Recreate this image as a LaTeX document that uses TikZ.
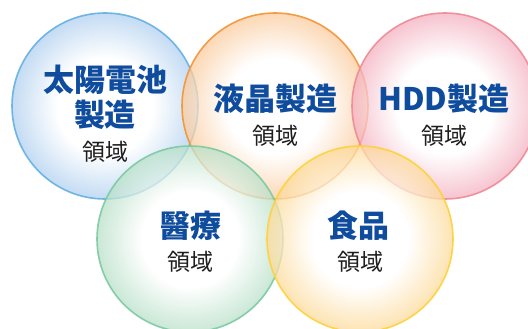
\documentclass[tikz,border=0pt]{standalone}
\usepackage{fontspec}
\newfontfamily\cjk{Noto Sans CJK JP}
\definecolor{titleblue}{HTML}{0F4C9E}
\definecolor{subgray}{HTML}{1E1E1E}
\definecolor{blueL}{HTML}{62B0E2}\definecolor{blueT}{HTML}{B0D0F0}
\definecolor{orangeL}{HTML}{F39436}\definecolor{orangeT}{HTML}{FBCB9C}
\definecolor{pinkL}{HTML}{EE8A96}\definecolor{pinkT}{HTML}{F4B0C0}
\definecolor{greenL}{HTML}{7CC9A3}\definecolor{greenT}{HTML}{B8E0C8}
\definecolor{yellowL}{HTML}{FDD23A}\definecolor{yellowT}{HTML}{FDDA98}
\pgfdeclareradialshading{blueS}{\pgfpoint{0bp}{0bp}}{color(0bp)=(white); color(13bp)=(white); color(25bp)=(blueT); color(50bp)=(blueT)}
\pgfdeclareradialshading{orangeS}{\pgfpoint{0bp}{0bp}}{color(0bp)=(white); color(13bp)=(white); color(25bp)=(orangeT); color(50bp)=(orangeT)}
\pgfdeclareradialshading{pinkS}{\pgfpoint{0bp}{0bp}}{color(0bp)=(white); color(13bp)=(white); color(25bp)=(pinkT); color(50bp)=(pinkT)}
\pgfdeclareradialshading{greenS}{\pgfpoint{0bp}{0bp}}{color(0bp)=(white); color(13bp)=(white); color(25bp)=(greenT); color(50bp)=(greenT)}
\pgfdeclareradialshading{yellowS}{\pgfpoint{0bp}{0bp}}{color(0bp)=(white); color(13bp)=(white); color(25bp)=(yellowT); color(50bp)=(yellowT)}
\tikzset{
  bubble/.style={fill opacity=0.75},
  rim/.style={line width=1.6pt, draw opacity=0.9},
  title/.style={inner sep=0pt, text=titleblue, font=\cjk\bfseries\fontsize{31}{37}\selectfont},
  sub/.style={inner sep=0pt, text=subgray, font=\cjk\fontsize{23}{27}\selectfont}
}
\begin{document}
\begin{tikzpicture}[x=1pt,y=-1pt]
\useasboundingbox (0,0) rectangle (528,329);
\fill[white] (0,0) rectangle (528,329);
\coordinate (cB) at (105,106);
\coordinate (cO) at (275,106);
\coordinate (cP) at (445,106);
\coordinate (cG) at (190,239);
\coordinate (cY) at (360,239);
\begin{scope}
\clip (0,0) rectangle (528,329);
\shade[shading=blueS, bubble] (cB) circle (93pt);
\draw[blueL, rim] (cB) circle (93pt);
\shade[shading=orangeS, bubble] (cO) circle (93pt);
\draw[orangeL, rim] (cO) circle (93pt);
\shade[shading=pinkS, bubble] (cP) circle (93pt);
\draw[pinkL, rim] (cP) circle (93pt);
\shade[shading=greenS, bubble] (cG) circle (93pt);
\draw[greenL, rim] (cG) circle (93pt);
\shade[shading=yellowS, bubble] (cY) circle (93pt);
\draw[yellowL, rim] (cY) circle (93pt);
\end{scope}
\node[title] (t1a) at (105,80) {太陽電池};
\node[title] (t1b) at (105,115) {製造};
\node[sub]   (s1)  at (105,152) {領域};
\node[title] (t2)  at (275,99) {液晶製造};
\node[sub]   (s2)  at (275,136) {領域};
\node[title] (t3)  at (444,99) {HDD製造};
\node[sub]   (s3)  at (444,136) {領域};
\node[title] (t4)  at (190,226) {醫療};
\node[sub]   (s4)  at (190,262) {領域};
\node[title] (t5)  at (358,226) {食品};
\node[sub]   (s5)  at (360,262) {領域};
\end{tikzpicture}
\end{document}
